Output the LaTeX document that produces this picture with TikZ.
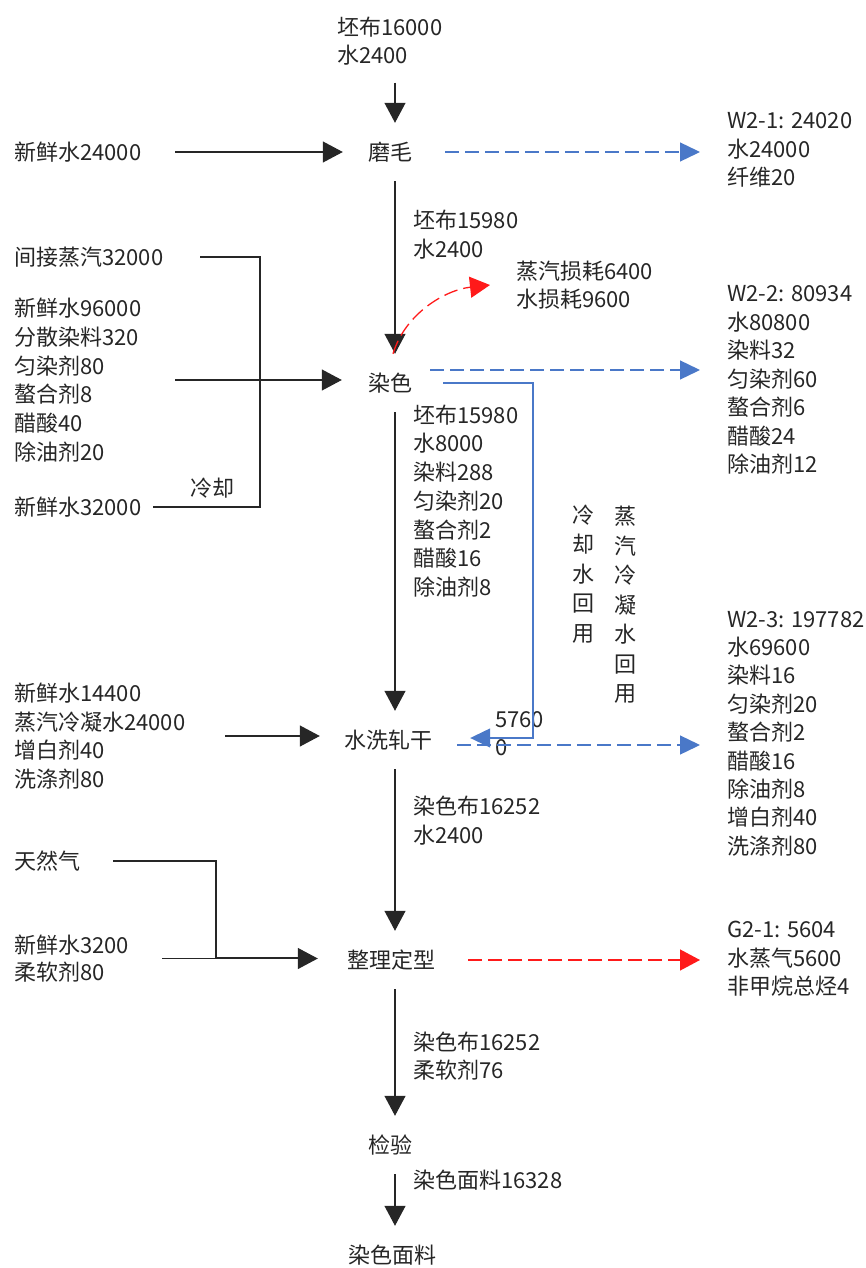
\documentclass[tikz,border=0pt]{standalone}
\usepackage{fontspec}
\setmainfont{Noto Sans CJK SC}
\usetikzlibrary{arrows.meta}
\definecolor{ink}{HTML}{262626}
\definecolor{flowblue}{HTML}{4A78C8}
\definecolor{flowred}{HTML}{FF1A1A}
\begin{document}
\begin{tikzpicture}[x=1pt,y=-1pt,
  every node/.style={text=ink, font=\fontsize{22}{28.5}\selectfont, inner sep=0pt},
  stage/.style={minimum height=58pt},
  lbl/.style={anchor=west, align=left},
  vtext/.style={align=center, font=\fontsize{22}{29.5}\selectfont},
  flow/.style={draw=ink, line width=1.2pt, -{Triangle[length=20pt,width=21pt]}},
  pipe/.style={draw=ink, line width=1.2pt},
  merge/.style={draw=ink, line width=2.2pt},
  waste/.style={draw=flowblue, line width=1.3pt, dash pattern=on 14pt off 6pt, -{Triangle[length=20pt,width=19pt]}},
  recycle/.style={draw=flowblue, line width=1.3pt, -{Triangle[length=20pt,width=19pt]}},
  gas/.style={draw=flowred, line width=1.3pt, dash pattern=on 14pt off 6pt, -{Triangle[length=20pt,width=21pt]}}]
\useasboundingbox (0,0) rectangle (866,1268);
\coordinate (axis) at (395,0);

% process stages
\node[stage] (mm) at (390,152) {磨毛};
\node[stage] (dy) at (390,383) {染色};
\node[stage] (sx) at (388,740) {水洗轧干};
\node[stage] (zl) at (391,960) {整理定型};
\node[stage] (jy) at (390,1145) {检验};
\node[stage] (cp) at (392,1255) {染色面料};

% raw material
\node[lbl] (raw) at (337,41) {坯布16000\\水2400};

% inputs on the left
\node[lbl] (in1) at (14,152) {新鲜水24000};
\node[lbl] (st) at (14,257) {间接蒸汽32000};
\node[lbl, font=\fontsize{22}{28.8}\selectfont] (chem) at (14,380) {新鲜水96000\\分散染料320\\匀染剂80\\螯合剂8\\醋酸40\\除油剂20};
\node[lbl] (fw32) at (14,507) {新鲜水32000};
\node (coolL) at (212,488) {冷却};
\node[lbl] (in3) at (14,736) {新鲜水14400\\蒸汽冷凝水24000\\增白剂40\\洗涤剂80};
\node[lbl] (ng) at (14,861) {天然气};
\node[lbl, font=\fontsize{22}{27}\selectfont] (fw3) at (14,958.5) {新鲜水3200\\柔软剂80};

% flows between stages
\node[lbl] (l1) at (413,234.5) {坯布15980\\水2400};
\node[lbl, font=\fontsize{22}{28.7}\selectfont] (l2) at (413,501) {坯布15980\\水8000\\染料288\\匀染剂20\\螯合剂2\\醋酸16\\除油剂8};
\node[lbl] (l4) at (413,820.5) {染色布16252\\水2400};
\node[lbl] (l5) at (413,1056) {染色布16252\\柔软剂76};
\node[lbl] (l6) at (413,1180) {染色面料16328};

% losses and recycling notes
\node[lbl] (loss) at (516,285) {蒸汽损耗6400\\水损耗9600};
\node[lbl, font=\fontsize{22}{28}\selectfont] (rq) at (495,734) {5760\\0};
\node[vtext] (v1) at (583,574) {冷\\却\\水\\回\\用};
\node[vtext] (v2) at (625,605) {蒸\\汽\\冷\\凝\\水\\回\\用};

% outputs on the right
\node[lbl] (w1) at (727,150) {W2-1: 24020\\水24000\\纤维20};
\node[lbl] (w2) at (727,380) {W2-2: 80934\\水80800\\染料32\\匀染剂60\\螯合剂6\\醋酸24\\除油剂12};
\node[lbl, font=\fontsize{22}{28.4}\selectfont] (w3) at (727,733.5) {W2-3: 197782\\水69600\\染料16\\匀染剂20\\螯合剂2\\醋酸16\\除油剂8\\增白剂40\\洗涤剂80};
\node[lbl] (g1) at (727,959) {G2-1: 5604\\水蒸气5600\\非甲烷总烃4};

% main line
\draw[flow, shorten <=17pt] (raw.south -| axis) -- (mm.north -| axis);
\draw[flow] (mm.south -| axis) -- (dy.north -| axis);
\draw[flow] (dy.south -| axis) -- (sx.north -| axis);
\draw[flow] (sx.south -| axis) -- (zl.north -| axis);
\draw[flow] (zl.south -| axis) -- (jy.north -| axis);
\draw[flow] (jy.south -| axis) -- (cp.north -| axis);

% feeds
\draw[flow, shorten <=34pt, shorten >=25pt] (in1.east) -- (mm.west);

\coordinate (cool) at (260,507);
\draw[pipe] ([xshift=37pt]st.east) -| (cool) -- ([xshift=12pt]fw32.east);
\draw[flow, shorten <=34pt, shorten >=26pt] (chem.east) -- (chem.east -| dy.west);
\draw[merge] (cool |- chem.east) -- ([xshift=-46pt]dy.west |- chem.east);

\draw[flow, shorten <=40pt, shorten >=24pt] (in3.east) -- (in3.east -| sx.west);

\coordinate (gasj) at (216,958);
\draw[pipe] ([xshift=33pt]ng.east) -| (gasj);
\draw[flow, shorten <=33pt, shorten >=29pt] (fw3.east) -- (fw3.east -| zl.west);
\draw[merge] (gasj) -- ([xshift=-49pt]zl.west |- gasj);

% discharges
\draw[waste, shorten <=33pt, shorten >=27pt] (mm.east) -- (mm.east -| w1.west);
\draw[waste, shorten <=18pt, shorten >=27pt] ([yshift=13pt]dy.east) -- ([yshift=13pt]dy.east -| w2.west);
\draw[waste, shorten <=25pt, shorten >=27pt] ([yshift=-5pt]sx.east) -- ([yshift=-5pt]sx.east -| w3.west);
\draw[gas, shorten <=33pt, shorten >=27pt] (zl.east) -- (zl.east -| g1.west);
\draw[gas] ([xshift=3pt]dy.north) .. controls +(12,-40) and +(-45,5) .. ([xshift=-26pt]loss.west);

% condensate return
\coordinate (ret) at (533,738);
\draw[recycle] ([xshift=31pt]dy.east) -| (ret) -- ([xshift=38pt]sx.east |- ret);
\end{tikzpicture}
\end{document}
